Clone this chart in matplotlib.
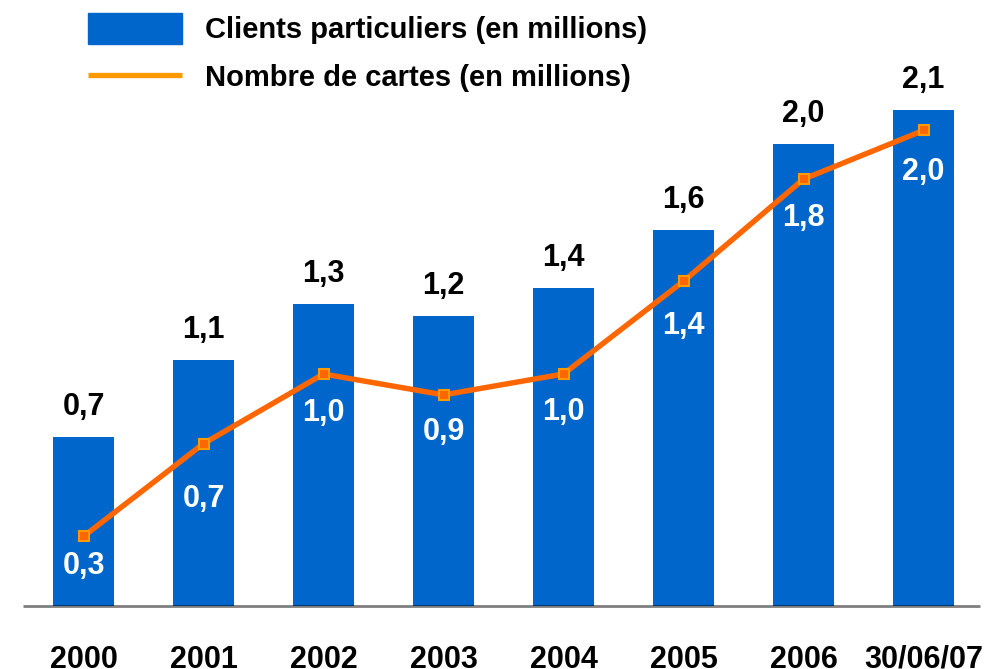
import numpy as np
import matplotlib
matplotlib.use('Agg')
import matplotlib.pyplot as plt
from matplotlib.patches import Rectangle
from matplotlib.lines import Line2D

# DATA

years = ['2000', '2001', '2002', '2003', '2004', '2005', '2006', '30/06/07']
clients = [0.73, 1.06, 1.30, 1.25, 1.37, 1.62, 1.99, 2.14]
clients_labels = ['0,7', '1,1', '1,3', '1,2', '1,4', '1,6', '2,0', '2,1']
cartes = [0.30, 0.70, 1.00, 0.91, 1.00, 1.40, 1.84, 2.05]
cartes_labels = ['0,3', '0,7', '1,0', '0,9', '1,0', '1,4', '1,8', '2,0']

# label offsets below the line points (pixels)
cartes_dy = [30, 55, 39, 37, 38, 45, 39, 42]

blue = '#0066CC'
orange = '#FF6600'
orange_light = '#FF9900'

plt.rcParams['font.family'] = ['Liberation Sans', 'DejaVu Sans']
plt.rcParams['font.weight'] = 'bold'

fig = plt.figure(figsize=(9.96, 6.69), dpi=100)
ax = fig.add_axes([0, 0, 1, 1])
ax.set_xlim(-0.696, 7.604)
ax.set_ylim(-63 / 232, 606 / 232)
ax.axis('off')

x = np.arange(len(years))

# bars
ax.bar(x, clients, width=61 / 120, color=blue, zorder=2)

# baseline (half transparent so it darkens over the bars)
ax.plot([-0.505, 7.47], [0, 0], color='black', alpha=0.5, lw=2, zorder=3,
        solid_capstyle='butt')

# line
ax.plot(x, cartes, color=orange, lw=3.9, zorder=4, marker='s', markersize=7.5,
        markerfacecolor=orange, markeredgecolor=orange_light, markeredgewidth=1.5)

# value labels
for i in range(len(x)):
    ax.annotate(clients_labels[i], (x[i], clients[i]), xytext=(0, 30),
                textcoords='offset pixels', ha='center', va='center',
                fontsize=22, fontweight='bold', color='black')
    ax.annotate(cartes_labels[i], (x[i], cartes[i]), xytext=(0, -cartes_dy[i]),
                textcoords='offset pixels', ha='center', va='center',
                fontsize=22, fontweight='bold', color='white', zorder=5)
    ax.annotate(years[i], (x[i], 0), xytext=(0, -54),
                textcoords='offset pixels', ha='center', va='center',
                fontsize=22, fontweight='bold', color='black')

# legend
W, H = 996., 669.
fig.add_artist(Rectangle((88 / W, 1 - 44 / H), 94 / W, 31 / H,
                         transform=fig.transFigure, color=blue))
fig.add_artist(Line2D([88 / W, 182 / W], [1 - 75 / H, 1 - 75 / H],
                      transform=fig.transFigure, color=orange_light, lw=3.8,
                      solid_capstyle='butt'))
fig.text(205 / W, 1 - 30 / H, 'Clients particuliers (en millions)',
         fontsize=21, fontweight='bold', va='center', ha='left')
fig.text(205 / W, 1 - 78 / H, 'Nombre de cartes (en millions)',
         fontsize=21, fontweight='bold', va='center', ha='left')

fig.savefig('out.png', dpi=100)
